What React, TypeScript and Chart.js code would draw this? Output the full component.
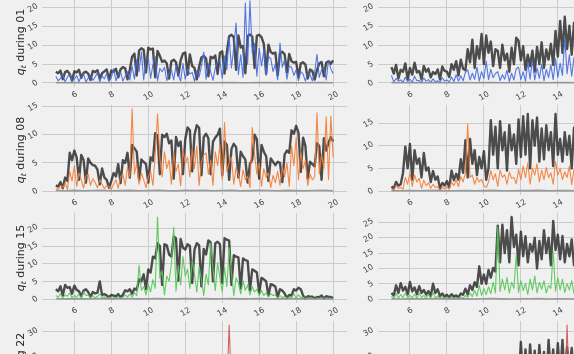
import React, { useEffect, useRef } from "react";
import { Chart, registerables } from "chart.js";
Chart.register(...registerables);

// ---------- data ----------
const X_START = 5;
const X_END = 20;
const xTickValues = [6, 8, 10, 12, 14, 16, 18, 20];
const yTickValuesFine = [0, 5, 10, 15, 20, 25, 30];
const yTickValuesCoarse = [0, 10, 20, 30];
const rowLabels = ["01", "08", "15", "22"];
const seriesColors = [
  "rgba(65,105,225,0.9)",
  "rgba(245,125,55,0.92)",
  "rgba(85,200,85,0.92)",
  "rgba(205,85,85,0.92)",
];

const floorVals = [0.1,0.05,0.12,0.06,0.1,0.15,0.05,0.08,0.12,0.05,0.1,0.15,0.08,0.05,0.12,0.1,0.14,0.05,0.1,0.12,0.05,0.08,0.14,0.1,0.05,0.12,0.08,0.05,0.1,0.12,0.05];

// row "01"
const darkA01 = [3.0,2.6,3.3,1.0,2.9,3.2,2.4,0.6,3.1,2.8,3.5,1.4,2.7,3.0,2.5,0.8,3.2,2.9,3.4,1.2,2.6,3.1,3.6,0.9,3.3,3.0,3.8,1.5,3.6,4.2,3.9,1.0,3.5,
  7.0,7.8,2.0,8.6,9.2,8.8,2.8,9.4,8.9,9.1,1.5,8.5,7.2,
  5.6,6.0,5.2,1.2,5.8,6.2,5.5,2.0,6.0,
  7.8,8.1,2.2,7.6, 4.5,4.0,1.0,4.3,
  6.8,7.2,6.5,1.8,7.0,6.6,7.3,2.4, 8.0,8.4,2.5,8.2,
  12.4,12.8,12.2,3.5,12.6, 9.4,9.8,2.6,
  12.5,12.9,12.3,4.0,12.6,12.8,12.2, 10.4,2.5,10.2,
  8.2,7.8,8.1,2.0,7.9,8.3,7.6,2.8,7.7,
  5.8,5.4,5.6,1.5,5.2,5.5,4.9,1.2, 3.6,3.2,0.9,3.4,
  5.2,5.6,1.8,5.4,5.8,5.1,6.0];
const lineA01 = [1.8,0.6,1.2,2.2,0.3,1.5,2.6,0.5,1.0,2.0,0.4,1.7,2.4,0.2,1.3,2.1,0.7,1.6,2.8,0.3,1.9,1.1,2.5,0.4,1.4,3.8,0.6,2.2,2.9,0.5,1.8,3.0,0.8,
  4.5,1.0,6.2,3.0,8.2,0.8,5.8,6.9,1.2,4.8,7.0,0.6,3.9,
  3.0,4.2,0.6,2.6,3.5,0.8,4.6,2.2,0.5,
  5.2,1.0,3.8,2.4, 2.8,0.5,3.3,1.6,
  4.5,8.2,1.0,5.1,3.0,0.7,4.0,5.5, 6.0,1.2,7.2,3.5,
  12.0,4.0,9.5,15.9,2.2, 7.5,1.5,21.2,
  5.0,21.8,8.0,10.5,1.8,9.2,4.5, 8.8,2.0,7.0,
  6.5,3.0,5.0,0.8,10.6,4.2,6.2,1.0,4.5,
  4.2,2.0,3.5,0.6,3.0,2.4,0.5,2.6, 2.2,0.6,2.8,7.6,
  1.5,3.5,4.2,0.8,6.0,3.8,2.5];
const darkB01 = [4.2,2.5,4.8,1.2,3.5,3.0,5.2,1.0,4.0,2.2,5.4,2.8,3.2,1.0,4.5,3.0,3.8,1.5,2.9,2.4,3.6,1.0,4.4,3.2,3.0,1.6,5.0,3.5,5.8,2.0,6.2,3.8,3.4,
  9.0,5.5,11.5,4.0,9.8,6.5,13.0,5.0,12.6,8.0,11.0,4.5,9.0,
  8.5,4.0,10.2,6.0,7.8,3.0,9.4,5.0,12.0,
  11.2,6.0,9.8,3.5, 7.5,4.5,8.6,3.0,
  9.6,5.0,10.8,4.0,8.9,6.2,10.4,4.8, 13.8,7.0,16.5,8.0,
  17.6,9.0,15.2,7.5,16.0,
  12.5,4.0,14.8,3.2,13.0,5.5,21.8,3.0,12.2,4.8,14.0,2.6,11.5,3.8,12.8,2.4,10.6,3.4,11.8,2.0,9.5,2.8,10.2,1.8,8.6,2.5,9.0,1.6,7.4,2.2,8.0,1.4,6.5,2.0,7.2,1.2,6.0,1.8,6.8,1.5,5.5];
const lineB01 = [2.0,0.3,1.2,0.5,0.8,0.2,1.5,0.4,1.0,0.2,1.8,0.6,0.7,0.1,1.3,0.5,0.9,0.2,1.1,0.3,0.6,0.2,1.4,0.5,0.8,0.3,1.6,0.4,2.2,0.5,1.9,0.6,2.8,
  3.5,0.8,2.6,1.0,4.2,0.5,3.0,1.2,5.8,0.9,3.6,1.4,2.5,
  3.0,0.6,2.2,1.0,3.4,0.4,2.6,0.8,3.8,
  4.2,0.9,3.0,0.5, 5.5,1.0,6.2,0.8,
  4.0,1.2,5.0,0.6,3.6,1.5,4.8,0.9, 6.5,1.5,5.2,2.0,
  12.0,2.5,7.5,1.8,6.8,
  5.5,1.5,7.0,2.0,6.2,1.2,8.0,2.2,5.6,1.4,6.4,1.0,5.0,1.6,5.8,0.9,4.4,1.2,5.0,0.8,4.0,1.1,4.6,0.7,3.6,1.0,4.2,0.6,3.2,0.9,3.8,0.5,2.8,0.8,3.4,0.5,2.6,0.7,3.0,0.6,2.4];

// row "08"
const darkA08 = [1.0,0.8,1.6,0.5,2.4,1.8,6.8,5.5,7.2,
  6.0,2.0,6.4,5.5,1.5,5.8,5.0,4.6,
  4.5,3.8,1.2,4.0,2.4,2.0,0.6,1.8,
  3.2,2.6,4.8,1.4,5.5,5.0,6.8,2.4,
  8.2,7.6,7.0,2.0,5.6,5.2,4.8,1.5,
  6.0,5.4,10.3,9.8,3.0,10.0,9.6,10.2,
  8.5,9.0,2.2,9.6,8.0,8.8,3.0,9.2,
  11.3,10.8,3.5,10.0,11.7,11.2,2.8,9.6,
  10.2,9.4,3.0,8.8,9.5,10.0,11.1,2.8,
  8.8,8.2,2.0,7.5,8.4,7.8,2.4,7.0,
  6.2,5.6,1.5,4.8,5.6,10.0,9.2,2.2,
  8.2,7.0,6.2,1.8,5.8,5.2,4.6,5.2,
  5.0,1.6,6.5,7.2,6.8,10.8,10.2,11.6,
  10.4,3.4,9.5,8.0,2.2,5.2,4.8,4.4,
  8.5,8.0,2.0,9.4,7.2,8.6,9.6,8.8];
const lineA08 = [0.5,0.2,1.0,0.6,1.5,0.3,3.5,1.8,4.5,
  0.8,3.2,2.0,0.5,2.6,3.0,1.0,2.2,
  1.5,0.6,2.0,1.2,0.4,1.0,0.8,0.3,
  1.2,2.0,0.5,2.5,3.0,1.0,4.2,2.5,
  14.6,3.0,5.0,1.2,3.2,2.0,0.6,2.5,
  3.5,1.0,6.5,13.7,5.8,2.5,7.0,4.0,
  5.5,1.2,6.8,3.5,4.8,0.9,7.2,5.0,
  6.0,2.5,7.5,4.0,8.0,1.0,5.2,6.4,
  6.8,3.0,5.5,1.0,7.0,4.5,8.2,2.0,
  12.2,3.5,5.0,6.0,1.2,4.2,3.0,0.8,
  3.8,2.0,2.6,0.6,11.3,6.5,3.0,5.0,
  0.8,4.0,2.4,3.2,0.6,2.8,1.5,3.5,
  1.0,4.2,2.5,5.0,0.8,8.0,4.5,9.5,
  2.0,7.0,4.0,5.5,1.0,3.0,2.0,2.5,
  13.9,3.0,6.5,4.0,13.2,2.0,13.3,6.0];
const darkB08 = [1.0,0.6,2.0,1.2,1.5,4.0,9.8,5.0,10.4,
  2.5,9.0,6.0,7.2,3.0,8.4,4.5,5.2,
  2.0,4.4,2.5,3.2,0.6,1.8,1.2,2.2,
  0.8,4.5,2.4,3.8,2.5,7.0,4.0,11.2,
  3.0,11.5,6.0,9.0,3.5,7.5,5.0,8.8,
  2.5,5.0,15.6,8.0,14.2,5.0,15.4,9.0,
  13.0,4.5,14.6,9.0,12.5,6.0,15.8,7.5,
  16.5,8.0,17.0,5.0,15.6,10.0,16.2,6.5,
  13.8,7.0,14.5,9.0,13.0,5.5,17.0,8.0,
  11.5,6.5,13.0,8.0,12.2,5.0,14.0,7.0,
  12.0,6.0,18.1,8.0,11.0,5.0,12.8,6.0,
  10.5,2.8,11.8,3.5,9.6,2.0,10.8,3.0,
  9.0,2.2,10.2,1.8,8.5,2.6,9.8,2.0,
  8.0,1.5,9.2,2.4,7.4,1.6,8.5,2.0,
  7.0,1.2,8.2,2.0,6.5,1.4,7.6,6.0];
const lineB08 = [0.5,0.2,1.2,0.6,0.8,0.4,3.0,1.5,4.0,
  1.0,3.5,2.0,2.8,0.6,2.4,1.2,1.8,
  0.6,1.5,0.8,1.0,0.2,0.8,0.5,0.9,
  0.4,2.0,1.2,2.5,1.0,3.2,2.0,4.0,
  14.7,3.0,3.5,1.5,3.0,2.0,2.6,1.2,
  0.8,2.0,4.5,2.5,3.8,1.0,4.6,3.0,
  3.6,1.5,4.2,2.8,3.0,1.6,4.8,2.5,
  5.5,3.0,6.2,1.5,5.0,3.5,6.0,2.0,
  4.6,2.5,5.2,3.0,4.0,1.5,6.5,3.5,
  5.0,2.5,4.2,3.0,5.5,1.4,4.8,2.2,
  4.5,1.0,5.0,1.5,4.0,1.2,4.6,0.8,
  3.8,1.0,4.4,1.2,3.5,0.8,4.0,1.0,
  3.4,0.8,3.8,0.6,3.2,1.0,3.6,0.8,
  3.0,0.6,3.4,0.9,2.8,0.6,3.2,0.7,
  2.6,0.5,3.0,0.8,2.4,0.5,2.8,2.2];

// row "15"
const darkA15 = [2.8,2.2,3.6,1.0,4.0,3.2,3.4,1.5,3.8,
  2.6,2.2,0.8,2.4,2.8,2.0,0.6,2.0,
  1.6,1.8,5.0,1.2,1.4,1.0,0.5,1.2,
  1.0,0.8,1.4,0.5,1.2,2.5,2.2,2.8,
  1.5,3.0,2.6,5.6,5.0,7.0,2.8,8.4,
  7.5,12.0,11.5,15.8,15.0,4.0,15.5,15.2,
  12.6,12.0,17.7,17.2,5.2,17.0,14.5,14.0,
  15.5,15.0,4.5,14.0,15.8,15.2,3.6,14.2,
  12.6,16.6,16.0,5.0,15.8,16.2,15.5,4.5,
  17.2,16.8,16.5,4.0,12.4,12.0,11.8,3.0,
  11.5,11.0,10.8,2.5,8.4,8.0,7.5,1.8,
  6.0,5.6,5.0,1.0,4.2,4.0,3.5,0.6,
  2.8,2.4,1.6,0.3,1.2,1.0,2.8,2.4,
  3.2,2.8,1.0,0.2,0.8,0.7,0.7,0.2,
  0.6,0.5,1.0,0.2,0.8,0.6,0.6,0.3];
const lineA15 = [1.0,0.5,1.5,0.3,1.2,0.8,1.8,0.4,1.0,
  0.6,1.4,0.2,2.0,1.0,1.2,0.3,1.0,
  0.3,0.8,1.5,0.5,0.6,0.1,0.5,0.3,
  0.4,0.2,0.6,0.4,0.5,1.2,0.6,1.4,
  0.6,1.8,1.0,9.6,2.5,3.5,1.2,4.2,
  2.0,5.5,3.0,23.2,6.0,8.0,1.2,6.5,
  5.0,10.0,20.3,2.2,9.5,4.0,12.0,6.5,
  8.5,3.0,11.0,7.0,2.0,9.2,5.5,1.0,
  7.0,4.0,15.9,8.5,2.4,10.3,6.0,2.0,
  9.0,3.5,14.5,7.5,1.0,6.0,4.5,1.5,
  5.2,2.5,4.0,1.2,3.5,2.0,2.8,0.9,
  2.5,1.0,1.8,0.6,1.5,1.0,1.2,0.3,
  1.0,0.4,0.8,0.2,0.6,0.4,1.5,0.3,
  1.2,0.5,0.5,0.1,0.4,0.3,0.3,0.1,
  0.3,0.2,0.4,0.1,0.3,0.2,0.2,0.1];
const darkB15 = [2.0,1.2,4.5,2.0,5.2,2.8,4.0,1.5,5.6,
  2.5,3.8,1.6,4.2,2.0,3.0,1.5,2.6,
  1.0,5.0,2.0,3.2,1.0,1.8,0.8,1.4,
  0.6,1.6,0.8,1.2,0.6,1.8,1.4,3.4,
  1.5,4.5,3.0,5.5,4.0,10.7,5.0,8.0,
  5.0,9.5,7.0,10.2,9.0,24.0,12.0,24.3,
  15.0,22.5,12.0,26.8,17.0,21.0,11.0,22.0,
  14.0,20.5,12.0,18.0,15.5,20.0,10.0,19.0,
  13.0,22.5,15.0,20.0,11.0,25.5,16.0,21.0,
  13.0,20.6,12.0,18.0,14.0,19.5,11.0,17.5,
  10.0,18.5,8.0,16.5,9.0,17.0,7.5,15.0,
  8.0,14.0,6.5,12.5,7.0,11.0,5.0,10.0,
  5.5,9.0,4.0,8.5,4.5,7.0,3.0,6.5,
  3.5,5.5,2.5,5.0,2.0,4.2,1.5,3.5,
  1.2,3.0,1.0,2.5,0.8,2.0,0.6,1.5];
const lineB15 = [1.0,0.2,1.8,0.3,1.5,0.5,2.0,0.4,1.2,
  0.4,1.6,0.3,2.0,0.5,1.2,0.3,1.5,
  0.3,2.2,0.4,1.0,0.2,0.8,0.2,0.6,
  0.2,0.7,0.1,0.5,0.3,0.8,0.2,1.2,
  0.5,2.0,0.8,2.8,1.0,4.5,1.2,3.5,
  1.5,4.0,1.8,5.5,2.0,23.5,2.5,6.5,
  3.0,7.0,2.0,5.5,3.5,14.5,2.2,6.0,
  2.8,5.0,1.5,6.5,3.0,7.5,2.0,5.5,
  3.2,6.0,2.0,4.5,3.5,15.5,2.5,7.0,
  3.0,6.5,2.2,5.0,3.0,6.0,1.8,5.5,
  2.5,5.0,1.5,4.0,2.0,4.5,1.2,3.5,
  1.8,3.0,1.2,2.8,1.5,2.5,1.0,2.2,
  1.0,2.0,0.8,1.8,0.7,1.5,0.5,1.2,
  0.5,1.0,0.4,0.9,0.3,0.8,0.3,0.6,
  0.2,0.5,0.2,0.4,0.2,0.3,0.1,0.3];

// row "22"
const darkA22 = [1.5,0.5,2,0.8,2.5,0.6,3,1,2.2,
  0.8,2.5,0.6,2,1,2.8,0.5,2.2,
  0.6,1.8,0.4,1.5,0.3,1.2,0.4,1.6,
  0.5,2,0.8,2.8,1,4,1.5,5,
  2,6.5,2.5,8,3,9.5,3.5,10,
  4,12,4.5,13,5,14,5.5,15,
  5,14.5,6,15.5,5.5,16,6,15,
  6.5,16.5,5,15,6,17,5.5,16,
  6,16.5,5.5,17.5,6.5,16,5,17,
  6,15.5,5,16,5.5,14.5,4.5,14,
  5,13,4,12,4.5,11,3.5,10,
  4,9,3,8,3.5,7,2.5,6,
  2.5,5.5,2,5,1.5,4.5,1.2,4,
  1,3.5,0.8,3,0.6,2.5,0.5,2,
  0.4,1.8,0.3,1.5,0.3,1.2,0.2,1];
const lineA22 = [0.5,0.2,0.8,0.3,1,0.2,1.2,0.4,0.8,
  0.3,1,0.2,0.8,0.3,1.2,0.2,0.9,
  0.2,0.6,0.1,0.5,0.1,0.4,0.1,0.6,
  0.2,0.8,0.3,1.2,0.4,1.6,0.5,2,
  0.6,2.5,0.8,3,1,3.5,1.2,4,
  1.5,4.5,1.8,5,2,5.5,2.2,6,
  2,6,2.5,6.5,2.2,7,2.5,6.5,
  2.5,7,2,6.5,2.8,7.5,2.2,7,
  2.5,7.2,2.2,8,2.8,7,2.2,7.5,
  2.5,7,32.7,6.8,2.2,6.5,2,6,
  2,5.5,1.8,5,2,4.5,1.5,4,
  1.5,3.8,1.2,3.5,1.2,3,1,2.8,
  1,2.5,0.8,2.2,0.7,2,0.6,1.8,
  0.5,1.5,0.4,1.2,0.4,1,0.3,0.8,
  0.3,0.7,0.2,0.6,0.2,0.5,0.1,0.4];
const darkB22 = [2,0.5,3,1,2.5,0.8,4,1,3.5,
  1.2,3,0.8,2.5,1,3.2,0.6,2.8,
  1,2.2,0.5,1.8,0.4,1.5,0.3,2,
  0.6,2.5,1,3.5,1.5,5,2,6.5,
  2.5,8,3,10,4,12,3.5,11,
  5,14,6,16,5.5,18,7,17,
  6,19,8,18.5,7,19.5,9,26,
  10,23,8,25,12,22.5,9,24.8,
  11,22,9,26.8,13,23,10,25.5,
  12,26.8,11,24,14,23.6,12,25.5,
  10,21,9,20,12,19,8,18,
  9,17,7,16,8,15,6,14,
  7,13,5,12,6,11,4,10,
  5,9,4,8,3,7,2.5,6,
  2,5,1.5,4,1.2,3.5,1,3];
const lineB22 = [0.5,0.2,1,0.3,0.8,0.2,1.2,0.4,1,
  0.3,0.8,0.2,0.6,0.3,1,0.2,0.7,
  0.2,0.5,0.1,0.4,0.1,0.3,0.1,0.5,
  0.2,0.8,0.3,1.2,0.5,1.8,0.6,2.5,
  0.8,3,1,3.5,1.2,4,1,3.8,
  1.5,5,2,6,1.8,7,2.2,6.5,
  2,7,2.5,8,2,9,3,10,
  3,9,2.5,10,3.5,8.5,3,9.5,
  3.5,10,3,11,4,9.5,3.2,10.5,
  4,11,3.5,32.7,4.5,10,3.8,9,
  3,8.5,2.8,8,3.5,7.5,2.5,7,
  2.5,6.5,2,6,2.2,5.5,1.8,5,
  1.8,4.5,1.5,4,1.2,3.5,1,3,
  1,2.8,0.8,2.5,0.7,2.2,0.5,2,
  0.5,1.8,0.4,1.5,0.3,1.2,0.3,1];

// ---------- layout ----------
const CANVAS_W = 720;
const CANVAS_H = 470;
const CANVAS_TOP = -10;
const COL_LEFT = [42, 377.6];
const AREA_W = 305;
const ROW_TOP0 = -3.2;
const ROW_STEP = 108.05;
const AREA_H = 90.3;

type Panel = { row: number; col: number; dark: number[]; line: number[] };

const panels: Panel[] = [
  { row: 0, col: 0, dark: darkA01, line: lineA01 },
  { row: 0, col: 1, dark: darkB01, line: lineB01 },
  { row: 1, col: 0, dark: darkA08, line: lineA08 },
  { row: 1, col: 1, dark: darkB08, line: lineB08 },
  { row: 2, col: 0, dark: darkA15, line: lineA15 },
  { row: 2, col: 1, dark: darkB15, line: lineB15 },
  { row: 3, col: 0, dark: darkA22, line: lineA22 },
  { row: 3, col: 1, dark: darkB22, line: lineB22 },
];

const toPoints = (arr: number[]) =>
  arr.map((v, i) => ({ x: X_START + ((X_END - X_START) * i) / (arr.length - 1), y: v }));

const FONT = '"DejaVu Sans", sans-serif';

function PanelChart({ panel }: { panel: Panel }) {
  const ref = useRef<HTMLCanvasElement | null>(null);
  useEffect(() => {
    if (!ref.current) return;
    const areaLeft = COL_LEFT[panel.col];
    const areaTop = ROW_TOP0 + ROW_STEP * panel.row;
    const padTop = areaTop - CANVAS_TOP;
    const m = Math.max(...panel.dark, ...panel.line);
    const yMin = -0.05 * m;
    const yMax = 1.05 * m;
    const yTickValues = yMax - yMin > 32 ? yTickValuesCoarse : yTickValuesFine;
    const xMin = X_START - 0.05 * (X_END - X_START);
    const xMax = X_END + 0.05 * (X_END - X_START);
    const label = panel.col === 0 ? rowLabels[panel.row] : null;

    const labelPlugin = {
      id: "tickLabels",
      afterDraw(chart: any) {
        const { ctx, chartArea, scales } = chart;
        const ang = Math.PI / 6;
        const capH = 6;
        ctx.save();
        ctx.fillStyle = "#444";
        ctx.font = `8px ${FONT}`;
        ctx.textAlign = "center";
        ctx.textBaseline = "middle";
        for (const v of xTickValues) {
          const px = scales.x.getPixelForValue(v);
          const t = String(v);
          const w = ctx.measureText(t).width;
          const bh = w * Math.sin(ang) + capH * Math.cos(ang);
          ctx.save();
          ctx.translate(px, chartArea.bottom + 3.5 + bh / 2);
          ctx.rotate(-ang);
          ctx.fillText(t, 0, 0.5);
          ctx.restore();
        }
        for (const v of yTickValues) {
          if (v < yMin || v > yMax) continue;
          const py = scales.y.getPixelForValue(v);
          const t = String(v);
          const w = ctx.measureText(t).width;
          const bw = w * Math.cos(ang) + capH * Math.sin(ang);
          ctx.save();
          ctx.translate(chartArea.left - 3.5 - bw / 2, py);
          ctx.rotate(-ang);
          ctx.fillText(t, 0, 0.5);
          ctx.restore();
        }
        if (label) {
          ctx.save();
          ctx.translate(23.5, chartArea.top + chartArea.height / 2);
          ctx.rotate(-Math.PI / 2);
          ctx.fillStyle = "#262626";
          ctx.textAlign = "left";
          ctx.textBaseline = "alphabetic";
          const fIt = `italic 11px ${FONT}`;
          const fSub = `italic 7.7px ${FONT}`;
          const fMain = `11px ${FONT}`;
          const rest = " during " + label;
          ctx.font = fIt;
          const wq = ctx.measureText("q").width;
          ctx.font = fSub;
          const wt = ctx.measureText("t").width;
          ctx.font = fMain;
          const wr = ctx.measureText(rest).width;
          let u = -(wq + wt + wr) / 2;
          ctx.font = fIt;
          ctx.fillText("q", u, 0);
          u += wq;
          ctx.font = fSub;
          ctx.fillText("t", u, 2.3);
          u += wt;
          ctx.font = fMain;
          ctx.fillText(rest, u, 0);
          ctx.restore();
        }
        ctx.restore();
      },
    };

    const chart = new Chart(ref.current, {
      type: "line",
      data: {
        datasets: [
          {
            data: toPoints(floorVals),
            borderColor: "rgba(140,140,140,0.85)",
            borderWidth: 1.6,
            pointRadius: 0,
            borderJoinStyle: "round",
            fill: false,
          },
          {
            data: toPoints(panel.line),
            borderColor: seriesColors[panel.row],
            borderWidth: 1.1,
            pointRadius: 0,
            borderJoinStyle: "round",
            fill: false,
          },
          {
            data: toPoints(panel.dark),
            borderColor: "rgba(35,35,35,0.8)",
            borderWidth: 2.4,
            pointRadius: 0,
            borderJoinStyle: "round",
            fill: false,
          },
        ],
      },
      options: {
        animation: false,
        responsive: false,
        events: [],
        parsing: false,
        layout: {
          padding: {
            left: areaLeft,
            top: padTop,
            right: CANVAS_W - areaLeft - AREA_W,
            bottom: CANVAS_H - padTop - AREA_H,
          },
        },
        plugins: { legend: { display: false }, tooltip: { enabled: false } },
        elements: { line: { tension: 0 }, point: { radius: 0 } },
        scales: {
          x: {
            type: "linear",
            min: xMin,
            max: xMax,
            afterBuildTicks: (s: any) => {
              s.ticks = xTickValues.map((v) => ({ value: v }));
            },
            afterFit: (s: any) => {
              s.height = 0;
            },
            ticks: { display: false },
            grid: { color: "#cbcbcb", lineWidth: 1, drawTicks: false },
            border: { display: false },
          },
          y: {
            type: "linear",
            min: yMin,
            max: yMax,
            afterBuildTicks: (s: any) => {
              s.ticks = yTickValues.filter((v) => v >= yMin && v <= yMax).map((v) => ({ value: v }));
            },
            afterFit: (s: any) => {
              s.width = 0;
            },
            ticks: { display: false },
            grid: { color: "#cbcbcb", lineWidth: 1, drawTicks: false },
            border: { display: false },
          },
        },
      } as any,
      plugins: [labelPlugin],
    });
    return () => chart.destroy();
  }, [panel]);
  return (
    <canvas
      ref={ref}
      width={CANVAS_W}
      height={CANVAS_H}
      style={{ position: "absolute", left: 0, top: CANVAS_TOP, width: CANVAS_W, height: CANVAS_H }}
    />
  );
}

export default function App() {
  return (
    <div
      style={{
        position: "fixed",
        left: 0,
        top: 0,
        width: 574,
        height: 354,
        overflow: "hidden",
        background: "#f0f0f0",
      }}
    >
      {panels.map((p, i) => (
        <PanelChart key={i} panel={p} />
      ))}
    </div>
  );
}
